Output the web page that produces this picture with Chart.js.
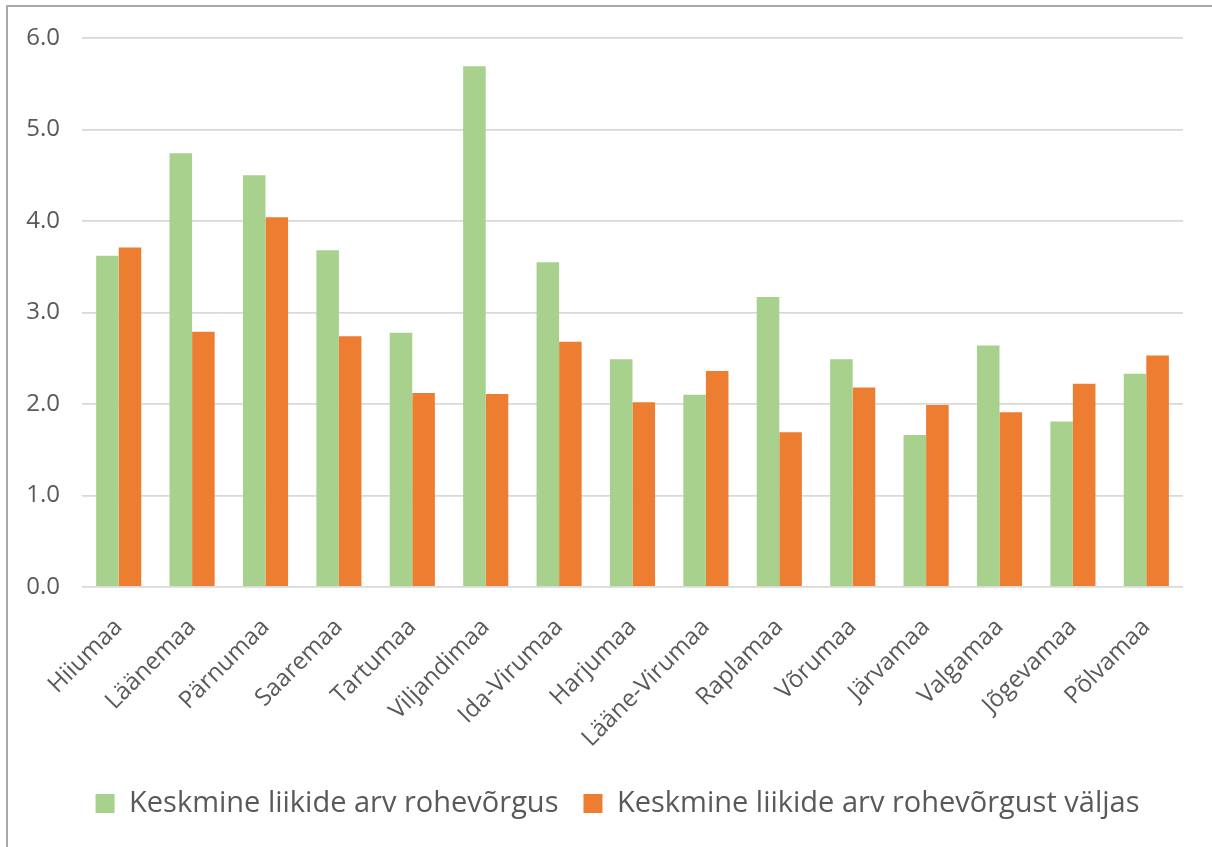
<!DOCTYPE html>
<html lang="et">
<head>
<meta charset="utf-8">
<title>Keskmine liikide arv maakonniti</title>
<script src="https://cdn.jsdelivr.net/npm/chart.js@4.4.1/dist/chart.umd.min.js"></script>
<style>
  html, body { margin: 0; padding: 0; background: #ffffff; }
  body { width: 1212px; height: 847px; position: relative; overflow: hidden; }
  #frame {
    position: absolute; left: 6px; top: 5px; right: 0; bottom: 0;
    border-left: 2px solid #a8a8a8; border-top: 2px solid #a8a8a8;
  }
  #wrap { position: absolute; left: 0; top: 0; width: 1212px; height: 847px; }
</style>
</head>
<body>
<div id="frame"></div>
<div id="wrap"><canvas id="chart" width="1212" height="847"></canvas></div>
<script>
// Counties (maakonnad)
const counties = [
  'Hiiumaa', 'Läänemaa', 'Pärnumaa', 'Saaremaa', 'Tartumaa',
  'Viljandimaa', 'Ida-Virumaa', 'Harjumaa', 'Lääne-Virumaa', 'Raplamaa',
  'Võrumaa', 'Järvamaa', 'Valgamaa', 'Jõgevamaa', 'Põlvamaa'
];

// Mean species count inside the green network
const insideNetwork = [
  3.62, 4.74, 4.50, 3.68, 2.78,
  5.69, 3.55, 2.49, 2.10, 3.17,
  2.49, 1.66, 2.64, 1.81, 2.33
];

// Mean species count outside the green network
const outsideNetwork = [
  3.71, 2.79, 4.04, 2.74, 2.12,
  2.11, 2.68, 2.02, 2.36, 1.69,
  2.18, 1.99, 1.91, 2.22, 2.53
];

const seriesNames = [
  'Keskmine liikide arv rohevõrgus',
  'Keskmine liikide arv rohevõrgust väljas'
];

// Value axis range
const yMin = 0;
const yMax = 6;
const yStep = 1;

const textColor = '#595959';
const gridColor = '#d9d9d9';
const fontFamily = '"Open Sans", "DejaVu Sans", sans-serif';

// Nudges the legend block to the right so it sits under the plot area
const legendShift = {
  id: 'legendShift',
  afterLayout(chart, args, opts) {
    const lg = chart.legend;
    if (lg) { lg.left += opts.dx; lg.right += opts.dx; }
  }
};

new Chart(document.getElementById('chart'), {
  type: 'bar',
  data: {
    labels: counties,
    datasets: [
      {
        label: seriesNames[0],
        data: insideNetwork,
        backgroundColor: '#a9d18e',
        borderWidth: 0
      },
      {
        label: seriesNames[1],
        data: outsideNetwork,
        backgroundColor: '#ed7d31',
        borderWidth: 0
      }
    ]
  },
  plugins: [legendShift],
  options: {
    responsive: false,
    animation: false,
    devicePixelRatio: 1,
    layout: {
      padding: { left: 0, top: 38, right: 29, bottom: 19 }
    },
    datasets: {
      bar: { barPercentage: 1.0, categoryPercentage: 0.615 }
    },
    scales: {
      x: {
        grid: { display: false, drawTicks: false },
        border: { display: false },
        ticks: {
          color: textColor,
          font: { family: fontFamily, size: 24 },
          minRotation: 45,
          maxRotation: 45,
          autoSkip: false,
          padding: 26
        },
        afterFit(scale) { scale.height = 177; }
      },
      y: {
        min: yMin,
        max: yMax,
        grid: { color: gridColor, lineWidth: 1.8, drawTicks: false },
        border: { display: false },
        ticks: {
          stepSize: yStep,
          color: textColor,
          font: { family: fontFamily, size: 24 },
          padding: 22,
          callback: (v) => Number(v).toFixed(1)
        },
        afterFit(scale) { scale.width = 82; }
      }
    },
    plugins: {
      legendShift: { dx: 26 },
      legend: {
        position: 'bottom',
        labels: {
          color: textColor,
          font: { family: fontFamily, size: 29 },
          boxWidth: 19,
          boxHeight: 19,
          padding: 25
        }
      },
      tooltip: { enabled: false }
    }
  }
});
</script>
</body>
</html>
